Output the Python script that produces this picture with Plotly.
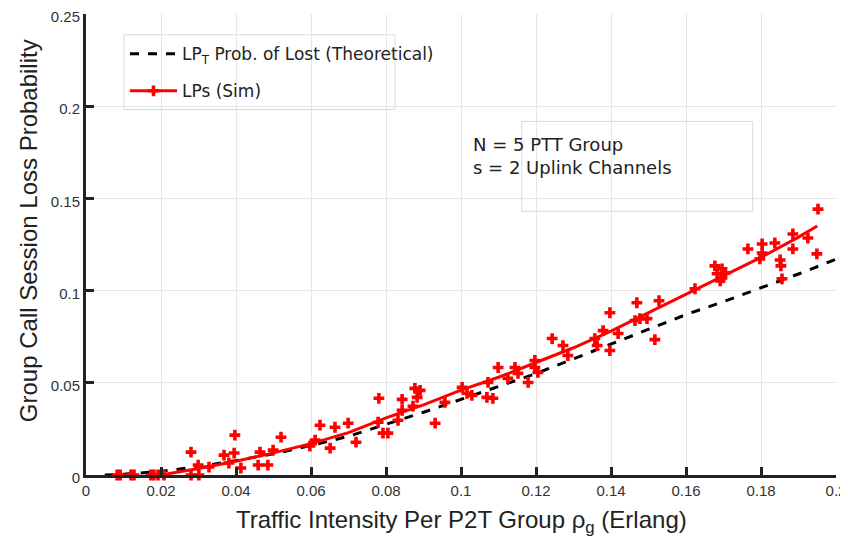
import plotly.graph_objects as go

# ------------------------------------------------------------
# Données
# ------------------------------------------------------------

# Courbe théorique LP_T (pointillés noirs)
theo_x = [0.005, 0.01, 0.02, 0.03, 0.04, 0.05, 0.06, 0.07, 0.08, 0.09, 0.10,
          0.11, 0.12, 0.13, 0.14, 0.15, 0.16, 0.17, 0.18, 0.19, 0.20]
theo_y = [0.0, 0.0004, 0.002, 0.0045, 0.0078, 0.0115, 0.016, 0.021, 0.0275, 0.034, 0.041,
          0.048, 0.055, 0.063, 0.071, 0.079, 0.087, 0.094, 0.1015, 0.109, 0.117]

# Courbe simulée lissée (trait rouge)
sim_fit_x = [0.02, 0.03, 0.04, 0.05, 0.06, 0.07, 0.08, 0.09, 0.10, 0.11,
             0.12, 0.13, 0.14, 0.15, 0.16, 0.17, 0.18, 0.19, 0.195]
sim_fit_y = [0.0, 0.0035, 0.0075, 0.012, 0.017, 0.023, 0.031, 0.038, 0.046, 0.053,
             0.061, 0.069, 0.078, 0.088, 0.098, 0.108, 0.118, 0.129, 0.135]

# Points simulés (croix rouges)
sim_x = [0.0083, 0.0091, 0.0120, 0.0128, 0.0173, 0.0181, 0.0192, 0.0208, 0.0280, 0.0280,
         0.0301, 0.0299, 0.0328, 0.0368, 0.0381, 0.0395, 0.0397, 0.0413, 0.0459, 0.0485,
         0.0464, 0.0499, 0.0520, 0.0597, 0.0611, 0.0624, 0.0651, 0.0664, 0.0699, 0.0720,
         0.0779, 0.0781, 0.0792, 0.0805, 0.0832, 0.0843, 0.0843, 0.0877, 0.0883, 0.0872,
         0.0931, 0.0957, 0.0891, 0.1003, 0.1016, 0.1029, 0.1072, 0.1069, 0.1085, 0.1099,
         0.1125, 0.1144, 0.1152, 0.1179, 0.1197, 0.1197, 0.1205, 0.1243, 0.1272, 0.1285,
         0.1357, 0.1363, 0.1379, 0.1397, 0.1419, 0.1397, 0.1469, 0.1464, 0.1477, 0.1496,
         0.1517, 0.1528, 0.1624, 0.1677, 0.1683, 0.1696, 0.1704, 0.1696, 0.1691, 0.1765,
         0.1803, 0.1803, 0.1797, 0.1837, 0.1885, 0.1885, 0.1925, 0.1851, 0.1853, 0.1856,
         0.1949, 0.1952]
sim_y = [0.0, 0.0, 0.0, 0.0, 0.0, 0.0, 0.0, 0.0, 0.0124, 0.0,
         0.0, 0.0054, 0.0043, 0.0108, 0.0065, 0.0119, 0.0216, 0.0038, 0.0054, 0.0054,
         0.0124, 0.0135, 0.0205, 0.0157, 0.0189, 0.0270, 0.0146, 0.0259, 0.0281, 0.0178,
         0.0286, 0.0416, 0.0227, 0.0227, 0.0297, 0.0410, 0.0351, 0.0470, 0.0421, 0.0373,
         0.0281, 0.0394, 0.0459, 0.0475, 0.0443, 0.0432, 0.0502, 0.0421, 0.0416, 0.0583,
         0.0524, 0.0583, 0.0551, 0.0502, 0.0621, 0.0583, 0.0556, 0.0740, 0.0702, 0.0648,
         0.0740, 0.0702, 0.0783, 0.0675, 0.0767, 0.0880, 0.0934, 0.0837, 0.0848, 0.0848,
         0.0734, 0.0945, 0.1010, 0.1134, 0.1091, 0.1118, 0.1096, 0.1069, 0.1053, 0.1226,
         0.1253, 0.1204, 0.1172, 0.1258, 0.1307, 0.1226, 0.1285, 0.1166, 0.1134, 0.1064,
         0.1199, 0.1442]

x_ticks = [0, 0.02, 0.04, 0.06, 0.08, 0.10, 0.12, 0.14, 0.16, 0.18, 0.20]
y_ticks = [0, 0.05, 0.10, 0.15, 0.20, 0.25]

RED = "#ff0000"
GRID = "#e6e6e6"
TICK_FONT = "Liberation Sans Narrow, Liberation Sans, Arial, sans-serif"
TITLE_FONT = "Liberation Sans, Arial, sans-serif"
TEXT_FONT = "DejaVu Sans, Verdana, sans-serif"

fig = go.Figure()

# Théorique
fig.add_trace(go.Scatter(
    x=theo_x, y=theo_y, mode="lines",
    name="LP<sub>T</sub> Prob. of Lost (Theoretical)",
    line=dict(color="black", width=3, dash="dash"),
    legendgroup="a",
))

# Simulation : points
fig.add_trace(go.Scatter(
    x=sim_x, y=sim_y, mode="markers",
    marker=dict(symbol="cross", size=9, color=RED, line=dict(width=0)),
    showlegend=False, cliponaxis=False,
))

# Simulation : courbe
fig.add_trace(go.Scatter(
    x=sim_fit_x, y=sim_fit_y, mode="lines",
    line=dict(color=RED, width=3),
    showlegend=False,
))

# Entrée de légende combinée (trait + croix)
fig.add_trace(go.Scatter(
    x=[None], y=[None], mode="lines+markers",
    name="LPs (Sim)",
    line=dict(color=RED, width=3),
    marker=dict(symbol="cross", size=9, color=RED),
    legendgroup="b",
))

# Cadre de légende (façon MATLAB) et boîte de texte
fig.add_shape(type="rect", xref="paper", yref="paper",
              x0=0.0507, x1=0.412, y0=0.7927, y1=0.955,
              line=dict(color="#d9d9d9", width=1), fillcolor="white", layer="below")
fig.add_shape(type="rect", xref="paper", yref="paper",
              x0=0.581, x1=0.889, y0=0.572, y1=0.767,
              line=dict(color="#d9d9d9", width=1), fillcolor="rgba(0,0,0,0)")

fig.add_annotation(
    xref="paper", yref="paper", x=0.513, y=0.691,
    xanchor="left", yanchor="middle", align="left", showarrow=False,
    text="N = 5 PTT Group<br>s = 2 Uplink Channels",
    font=dict(family=TEXT_FONT, size=18, color="#222222"),
)

# Titres des axes (placés à la main)
fig.add_annotation(
    xref="paper", yref="paper", x=0.5, y=-0.1015,
    xanchor="center", yanchor="middle", showarrow=False,
    text="Traffic Intensity Per P2T Group ρ<sub>g</sub> (Erlang)",
    font=dict(family=TITLE_FONT, size=24, color="#222222"),
)
fig.add_annotation(
    xref="paper", yref="paper", x=-0.0773, y=0.529,
    xanchor="center", yanchor="middle", showarrow=False, textangle=-90,
    text="Group Call Session Loss Probability",
    font=dict(family=TITLE_FONT, size=24, color="#222222"),
)

# la page ajoute 8 px de marge autour de la figure : on compense ici
fig.update_layout(
    width=840, height=536,
    plot_bgcolor="white", paper_bgcolor="white",
    margin=dict(l=78, r=12, t=6, b=69),
    showlegend=True,
    legend=dict(
        x=0.052, y=0.952, xanchor="left", yanchor="top",
        bgcolor="rgba(0,0,0,0)", borderwidth=0,
        font=dict(family=TEXT_FONT, size=17, color="#222222"),
        itemwidth=47, tracegroupgap=12, traceorder="grouped",
    ),
)

fig.update_xaxes(
    range=[0, 0.2], tickvals=x_ticks, automargin=False, ticklabeloverflow="allow",
    showgrid=True, gridcolor=GRID, gridwidth=1,
    showline=True, linecolor="#222222", linewidth=3,
    ticks="inside", ticklen=8, tickwidth=3, tickcolor="#222222",
    zeroline=False,
    tickfont=dict(family=TICK_FONT, size=15, color="#333333"),
)
fig.update_yaxes(
    range=[0, 0.25], tickvals=y_ticks, automargin=False, ticklabeloverflow="allow",
    ticklabelshift=3,
    showgrid=True, gridcolor=GRID, gridwidth=1,
    showline=True, linecolor="#222222", linewidth=3,
    ticks="inside", ticklen=8, tickwidth=3, tickcolor="#222222",
    zeroline=False,
    tickfont=dict(family=TICK_FONT, size=15, color="#333333"),
)

fig.write_html("out.html")
